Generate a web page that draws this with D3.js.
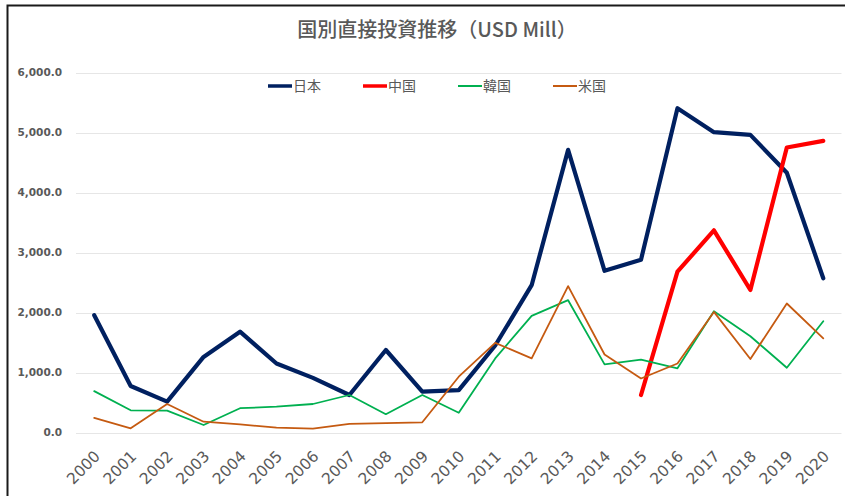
<!DOCTYPE html>
<html>
<head>
<meta charset="utf-8">
<script src="https://cdn.jsdelivr.net/npm/d3@7"></script>
<style>
  html, body { margin: 0; padding: 0; background: #fff; }
  svg { display: block; }
  text { font-family: "Noto Sans CJK JP", "Noto Sans", sans-serif; fill: #595959; }
</style>
</head>
<body>
<svg id="chart" width="845" height="496"></svg>
<script>
// Foreign direct investment by country, USD million
const years = ["2000","2001","2002","2003","2004","2005","2006","2007","2008","2009","2010",
               "2011","2012","2013","2014","2015","2016","2017","2018","2019","2020"];
const japan = [1955, 775, 515, 1260, 1680, 1150, 910, 625, 1375, 680, 705,
               1450, 2455, 4710, 2695, 2880, 5405, 5005, 4960, 4330, 2570];
const china = [null, null, null, null, null, null, null, null, null, null, null,
               null, null, null, null, 625, 2680, 3370, 2375, 4750, 4860];
const korea = [690, 370, 365, 125, 405, 430, 475, 625, 305, 625, 330,
               1235, 1945, 2205, 1135, 1215, 1070, 2020, 1605, 1080, 1855];
const usa   = [245, 70, 475, 180, 135, 80, 65, 145, 155, 170, 930,
               1495, 1235, 2440, 1300, 900, 1150, 2010, 1225, 2150, 1570];
const yTicks = [0, 1000, 2000, 3000, 4000, 5000, 6000];
const seriesNames = ["日本", "中国", "韓国", "米国"];

const series = [
  { name: seriesNames[0], values: japan, color: "#002060", width: 4.2 },
  { name: seriesNames[1], values: china, color: "#FF0000", width: 4.2 },
  { name: seriesNames[2], values: korea, color: "#00B050", width: 1.8 },
  { name: seriesNames[3], values: usa,   color: "#C55A11", width: 1.8 }
];

const svg = d3.select("#chart");
const W = 845, H = 496;
const plot = { left: 76, right: 841.5, top: 72.5, bottom: 432.5 };

// Outer frame (top and left edges visible)
svg.append("path")
  .attr("d", `M7.5,${H} L7.5,5.5 L${W},5.5`)
  .attr("fill", "none").attr("stroke", "#1a1a1a").attr("stroke-width", 2);

const x = d3.scaleBand().domain(years).range([plot.left, plot.right]);
const y = d3.scaleLinear().domain([0, 6000]).range([plot.bottom, plot.top]);

// Gridlines
svg.append("g").selectAll("line").data(yTicks).join("line")
  .attr("x1", plot.left).attr("x2", plot.right)
  .attr("y1", d => Math.round(y(d)) + 0.5).attr("y2", d => Math.round(y(d)) + 0.5)
  .attr("stroke", "#e6e6e6").attr("stroke-width", 1);

// Y axis labels
const yAxis = d3.axisLeft(y).tickValues(yTicks).tickSize(0).tickPadding(14)
  .tickFormat(d => d3.format(",.1f")(d));
svg.append("g").attr("transform", `translate(${plot.left},0)`).call(yAxis)
  .call(g => g.select(".domain").remove())
  .call(g => g.selectAll("text")
    .style("font-family", "'DejaVu Sans', sans-serif")
    .style("font-weight", "700").style("font-size", "10.5px").attr("fill", "#595959"));

// X axis labels, rotated
const xAxis = d3.axisBottom(x).tickSize(0).tickPadding(0);
svg.append("g").attr("transform", `translate(0,${plot.bottom})`).call(xAxis)
  .call(g => g.select(".domain").remove())
  .call(g => g.selectAll("text")
    .style("font-family", "'DejaVu Sans', sans-serif")
    .style("font-size", "15.5px").attr("fill", "#595959")
    .attr("text-anchor", "end")
    .attr("dy", "0.35em")
    .attr("transform", "translate(3,21) rotate(-45)"));

// Lines
const line = d3.line()
  .defined(d => d != null)
  .x((d, i) => x(years[i]) + x.bandwidth() / 2)
  .y(d => y(d));

svg.append("g").selectAll("path").data(series).join("path")
  .attr("d", s => line(s.values))
  .attr("fill", "none")
  .attr("stroke", s => s.color)
  .attr("stroke-width", s => s.width)
  .attr("stroke-linejoin", "round")
  .attr("stroke-linecap", "round");

// Title
svg.append("text")
  .attr("x", 437).attr("y", 37)
  .attr("text-anchor", "middle")
  .style("font-size", "20px").style("font-weight", "500")
  .text("国別直接投資推移（USD Mill）");

// Legend
const legendX = [268, 363, 458, 553];
const legend = svg.append("g").selectAll("g").data(series).join("g")
  .attr("transform", (s, i) => `translate(${legendX[i]},86)`);
legend.append("line")
  .attr("x1", 0).attr("x2", 24).attr("y1", 0).attr("y2", 0)
  .attr("stroke", s => s.color)
  .attr("stroke-width", s => s.width > 3 ? 3.5 : 2);
legend.append("text")
  .attr("x", 25).attr("y", 0).attr("dy", "0.36em")
  .style("font-size", "14px")
  .text(s => s.name);
</script>
</body>
</html>
